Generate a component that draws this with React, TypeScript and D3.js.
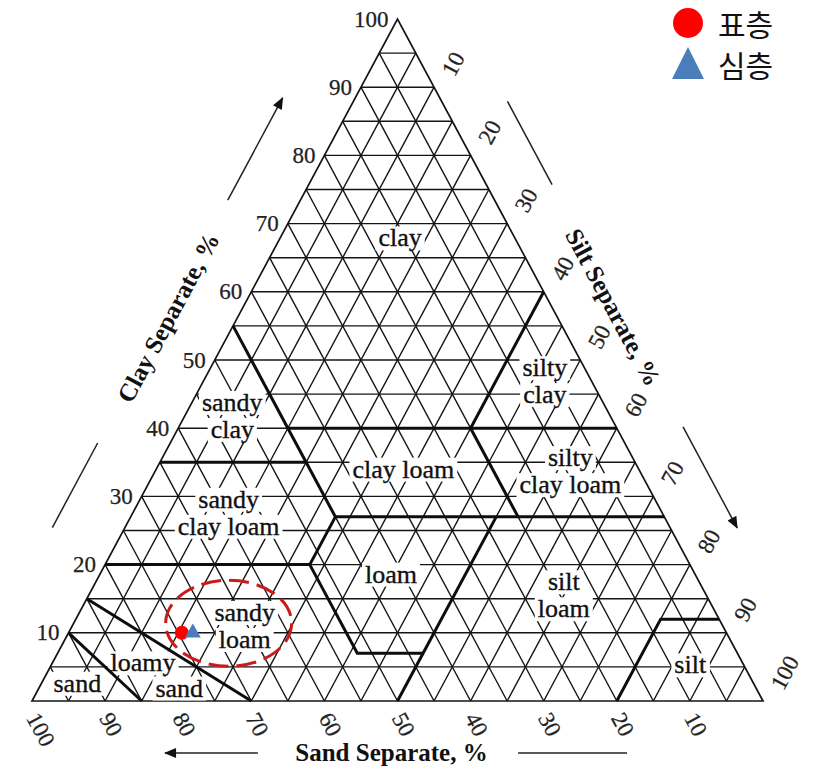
import { useEffect, useRef } from "react";
import * as d3 from "d3";

const WIDTH = 817;
const HEIGHT = 768;

// A composition is [sand, silt, clay] in percent.
type Comp = [number, number, number];

const gridSteps = [5, 10, 15, 20, 25, 30, 35, 40, 45, 50, 55, 60, 65, 70, 75, 80, 85, 90, 95];
const clayTicks = [10, 20, 30, 40, 50, 60, 70, 80, 90, 100];
const sandTicks = [100, 90, 80, 70, 60, 50, 40, 30, 20, 10];
const siltTicks = [10, 20, 30, 40, 50, 60, 70, 80, 90, 100];

// USDA texture class boundaries
const classBoundaries: Comp[][] = [
  [[90, 0, 10], [85, 15, 0]],
  [[85, 0, 15], [70, 30, 0]],
  [[80, 0, 20], [52, 28, 20]],
  [[52, 28, 20], [52, 41, 7], [43, 50, 7]],
  [[50, 50, 0], [43, 50, 7], [23, 50, 27]],
  [[20, 80, 0], [8, 80, 12], [0, 88, 12]],
  [[45, 28, 27], [0, 73, 27]],
  [[45, 0, 55], [45, 15, 40], [45, 20, 35], [45, 28, 27], [52, 28, 20]],
  [[65, 0, 35], [45, 20, 35]],
  [[45, 15, 40], [0, 60, 40]],
  [[20, 40, 40], [0, 40, 60]],
  [[20, 40, 40], [20, 53, 27]],
];

const classLabels: { lines: string[]; at: Comp }[] = [
  { lines: ["clay"], at: [15.7, 16.4, 67.9] },
  { lines: ["silty", "clay"], at: [6.4, 46.7, 46.9] },
  { lines: ["sandy", "clay"], at: [51.7, 6.5, 41.8] },
  { lines: ["clay loam"], at: [32.2, 33.8, 34.0] },
  { lines: ["silty", "clay loam"], at: [9.5, 56.8, 33.7] },
  { lines: ["sandy", "clay loam"], at: [59.3, 13.1, 27.6] },
  { lines: ["loam"], at: [41.6, 39.8, 18.6] },
  { lines: ["silt", "loam"], at: [19.5, 65.0, 15.5] },
  { lines: ["sandy", "loam"], at: [65.4, 23.6, 11.0] },
  { lines: ["loamy"], at: [82.0, 12.4, 5.6] },
  { lines: ["sand"], at: [78.9, 19.2, 1.9] },
  { lines: ["sand"], at: [92.5, 4.9, 2.6] },
  { lines: ["silt"], at: [7.3, 87.4, 5.3] },
];

// Sample compositions
const surfaceSamples: Comp[] = [[74.5, 15.5, 10]];
const subsoilSamples: Comp[] = [[73, 17, 10]];
const highlightCenter: Comp = [67.4, 21.2, 11.4];

const legendItems = [
  { label: "표층", shape: "circle", color: "#ff0000" },
  { label: "심층", shape: "triangle", color: "#4a7ebb" },
];

export default function App() {
  const ref = useRef<SVGSVGElement>(null);

  useEffect(() => {
    const svg = d3.select(ref.current);
    svg.selectAll("*").remove();

    const x = d3.scaleLinear().domain([0, 100]).range([32, 763]);
    const y = d3.scaleLinear().domain([0, 100]).range([701, 19]);
    const px = (c: Comp) => x(c[1] + c[2] / 2);
    const py = (c: Comp) => y(c[2]);
    const line = d3.line<Comp>().x(px).y(py);

    const serif = "'Liberation Serif', 'Times New Roman', serif";
    const ink = "#141414";

    const gGrid = svg.append("g");
    const gBg = svg.append("g");
    const gBound = svg.append("g");
    const gText = svg.append("g");
    const gDeco = svg.append("g");

    // 5 % grid in the three directions
    const grid: Comp[][] = [];
    gridSteps.forEach((v) => {
      grid.push([[100 - v, 0, v], [0, 100 - v, v]]);
      grid.push([[v, 100 - v, 0], [v, 0, 100 - v]]);
      grid.push([[100 - v, v, 0], [0, v, 100 - v]]);
    });
    gGrid
      .selectAll("path")
      .data(grid)
      .join("path")
      .attr("d", (d) => line(d))
      .attr("fill", "none")
      .attr("stroke", ink)
      .attr("stroke-width", 1.4);

    const frame: Comp[] = [[100, 0, 0], [0, 100, 0], [0, 0, 100]];
    gGrid
      .append("path")
      .attr("d", line(frame) + "Z")
      .attr("fill", "none")
      .attr("stroke", ink)
      .attr("stroke-width", 1.7)
      .attr("stroke-linejoin", "miter");

    // class boundaries
    gBound
      .selectAll("path")
      .data(classBoundaries)
      .join("path")
      .attr("d", (d) => line(d))
      .attr("fill", "none")
      .attr("stroke", "#0d0d0d")
      .attr("stroke-width", 3)
      .attr("stroke-linejoin", "miter");

    // class names with the grid cleared behind them
    const lineGap = 27;
    classLabels.forEach((lab) => {
      const cx = px(lab.at);
      const cy = py(lab.at);
      const n = lab.lines.length;
      lab.lines.forEach((t, i) => {
        const ty = cy + (i - (n - 1) / 2) * lineGap;
        const text = gText
          .append("text")
          .attr("x", cx)
          .attr("y", ty)
          .attr("text-anchor", "middle")
          .attr("dominant-baseline", "central")
          .attr("font-family", serif)
          .attr("font-size", 26)
          .attr("fill", "#111")
          .attr("stroke", "#111")
          .attr("stroke-width", 0.35)
          .text(t);
        const bb = (text.node() as SVGTextElement).getBBox();
        gBg
          .append("rect")
          .attr("x", bb.x - 3)
          .attr("y", bb.y + 3)
          .attr("width", bb.width + 6)
          .attr("height", bb.height - 5)
          .attr("fill", "#fff");
      });
    });

    // clay ticks (left edge)
    gDeco
      .selectAll("text.clay")
      .data(clayTicks)
      .join("text")
      .attr("class", "clay")
      .attr("x", (v) => px([100 - v, 0, v]) - 9)
      .attr("y", (v) => py([100 - v, 0, v]))
      .attr("text-anchor", "end")
      .attr("dominant-baseline", "central")
      .attr("font-family", serif)
      .attr("font-size", 23)
      .attr("fill", "#222")
      .attr("stroke", "#222")
      .attr("stroke-width", 0.25)
      .text((v) => v);

    const A: [number, number] = [px([100, 0, 0]), py([100, 0, 0])];
    const B: [number, number] = [px([0, 100, 0]), py([0, 100, 0])];
    const C: [number, number] = [px([0, 0, 100]), py([0, 0, 100])];

    const unit = (P: [number, number], Q: [number, number]) => {
      const len = Math.hypot(Q[0] - P[0], Q[1] - P[1]);
      return [(Q[0] - P[0]) / len, (Q[1] - P[1]) / len] as [number, number];
    };

    // tick text running along the grid direction d, starting beyond the edge point
    const rotatedTick = (at: Comp, d: [number, number], label: number, start: number, side: number) => {
      const nx = -d[1], ny = d[0];
      const tx = px(at) + d[0] * start + nx * side;
      const ty = py(at) + d[1] * start + ny * side;
      const ang = (Math.atan2(d[1], d[0]) * 180) / Math.PI;
      gDeco
        .append("text")
        .attr("transform", `translate(${tx},${ty}) rotate(${ang})`)
        .attr("text-anchor", "start")
        .attr("dominant-baseline", "central")
        .attr("font-family", serif)
        .attr("font-size", 23)
        .attr("fill", "#222")
        .attr("stroke", "#222")
        .attr("stroke-width", 0.25)
        .text(label);
    };

    // sand lines run parallel to the right edge; silt lines parallel to the left edge
    const sandDir = unit(C, B);
    const siltDir = unit(A, C);
    sandTicks.forEach((v) => rotatedTick([v, 100 - v, 0], sandDir, v, 12, 6));
    siltTicks.forEach((v) => rotatedTick([0, v, 100 - v], siltDir, v, 18, 6));

    // axis titles
    const title = (tx: number, ty: number, ang: number, t: string) =>
      gDeco
        .append("text")
        .attr("transform", `translate(${tx},${ty}) rotate(${ang})`)
        .attr("text-anchor", "middle")
        .attr("dominant-baseline", "central")
        .attr("font-family", serif)
        .attr("font-weight", "bold")
        .attr("font-size", 25)
        .attr("fill", "#111")
        .text(t);

    const edgeAngle = (Math.atan2(C[1] - A[1], C[0] - A[0]) * 180) / Math.PI;

    // point along an edge at fraction f, pushed outward by off
    const along = (P: [number, number], Q: [number, number], f: number, off: number) => {
      const [ux, uy] = unit(P, Q);
      const nx = uy, ny = -ux;
      return [P[0] + (Q[0] - P[0]) * f + nx * off, P[1] + (Q[1] - P[1]) * f + ny * off] as [number, number];
    };

    const clayT = along(A, C, 0.52, 61);
    title(clayT[0], clayT[1], edgeAngle, "Clay Separate, %");
    const siltT = along(C, B, 0.46, 54);
    title(siltT[0], siltT[1], -edgeAngle, "Silt Separate, %");
    title((A[0] + B[0]) / 2 - 6, A[1] + 51, 0, "Sand Separate, %");

    // direction arrows and rules
    const defs = svg.append("defs");
    defs
      .append("marker")
      .attr("id", "head")
      .attr("viewBox", "0 0 12 10")
      .attr("refX", 11)
      .attr("refY", 5)
      .attr("markerWidth", 13)
      .attr("markerHeight", 10)
      .attr("markerUnits", "userSpaceOnUse")
      .attr("orient", "auto")
      .append("path")
      .attr("d", "M0,0 L12,5 L0,10 Z")
      .attr("fill", "#111");

    const seg = (p: [number, number], q: [number, number], arrow: boolean) => {
      const s = gDeco
        .append("line")
        .attr("x1", p[0])
        .attr("y1", p[1])
        .attr("x2", q[0])
        .attr("y2", q[1])
        .attr("stroke", "#222")
        .attr("stroke-width", 1.5);
      if (arrow) s.attr("marker-end", "url(#head)");
    };
    seg(along(A, C, 0.69, 64), along(A, C, 0.84, 64), true);
    seg(along(A, C, 0.21, 64), along(A, C, 0.334, 64), false);
    seg(along(C, B, 0.161, 58), along(C, B, 0.283, 58), false);
    seg(along(C, B, 0.639, 59), along(C, B, 0.787, 59), true);
    seg([x(30.9), A[1] + 52], [x(18.2), A[1] + 52], true);
    seg([x(66.5), A[1] + 52], [x(81.4), A[1] + 52], false);

    // highlight ring around the samples
    gDeco
      .append("ellipse")
      .attr("cx", px(highlightCenter))
      .attr("cy", py(highlightCenter))
      .attr("rx", 63)
      .attr("ry", 43)
      .attr("fill", "none")
      .attr("stroke", "#cc1a1a")
      .attr("stroke-width", 3)
      .attr("stroke-dasharray", "20 8");

    // samples
    gDeco
      .selectAll("circle.surface")
      .data(surfaceSamples)
      .join("circle")
      .attr("class", "surface")
      .attr("cx", px)
      .attr("cy", py)
      .attr("r", 7)
      .attr("fill", legendItems[0].color);

    const tri = d3.symbol().type(d3.symbolTriangle).size(110);
    gDeco
      .selectAll("path.subsoil")
      .data(subsoilSamples)
      .join("path")
      .attr("class", "subsoil")
      .attr("transform", (d) => `translate(${px(d)},${py(d)})`)
      .attr("d", tri())
      .attr("fill", legendItems[1].color);

    // legend
    const lg = svg.append("g");
    legendItems.forEach((it, i) => {
      const cy = 23 + i * 41;
      if (it.shape === "circle") {
        lg.append("circle").attr("cx", 688).attr("cy", cy).attr("r", 15).attr("fill", it.color);
      } else {
        lg.append("path")
          .attr("d", `M688,${cy - 17} L704,${cy + 15} L672,${cy + 15} Z`)
          .attr("fill", it.color);
      }
      lg.append("text")
        .attr("x", 718)
        .attr("y", cy)
        .attr("dominant-baseline", "central")
        .attr("font-family", "'Noto Sans CJK KR', sans-serif")
        .attr("font-size", 30)
        .attr("fill", "#111")
        .text(it.label);
    });
  }, []);

  return (
    <svg
      ref={ref}
      width={WIDTH}
      height={HEIGHT}
      viewBox={`0 0 ${WIDTH} ${HEIGHT}`}
      style={{ display: "block", position: "absolute", left: 0, top: 0, background: "#fff" }}
    />
  );
}
